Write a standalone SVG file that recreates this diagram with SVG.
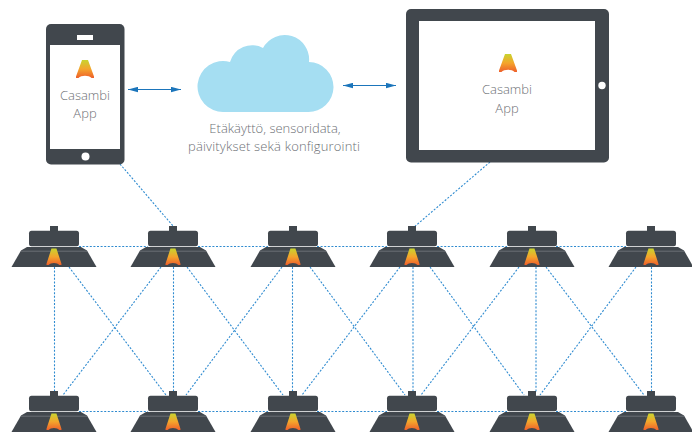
<svg xmlns="http://www.w3.org/2000/svg" width="692" height="432" viewBox="0 0 692 432">
<style>
.dk{fill:#41474d}
.t{font-family:"Open Sans","Liberation Sans",sans-serif;font-weight:300;font-size:13px;fill:#6d7075;text-anchor:middle}
.c{fill:none;stroke:#2f8bd0;stroke-width:1.1;stroke-dasharray:2 1.6}
.a{stroke:#1b75bb;stroke-width:1;fill:none;marker-start:url(#h);marker-end:url(#h)}
</style>
<defs>
<linearGradient id="g" x1="0" y1="0" x2="0" y2="1"><stop offset="0" stop-color="#c8d42e"/><stop offset=".5" stop-color="#f4a52c"/><stop offset="1" stop-color="#ee5f2b"/></linearGradient>
<marker id="h" markerWidth="10" markerHeight="6" refX="10" refY="3" orient="auto-start-reverse" markerUnits="userSpaceOnUse"><path d="M0 .3L10 3L0 5.700Z" fill="#1b75bb"/></marker>
<path id="logo" d="M6 0H12L18 16.500V18H15.500C13 15 5 15 2.500 18H0V16.500Z" fill="url(#g)"/>
<g id="lamp">
<rect class="dk" x="-4" y="0" width="8" height="6"/>
<rect class="dk" x="-25" y="4.700" width="50" height="15.500" rx="2.500"/>
<path class="dk" d="M-27 21L-33 24.500L-42.500 41H42.500L33 24.500L27 21Z"/>
<path d="M-33 25.200H33" stroke="#6a6f74" stroke-width="1"/>
<use href="#logo" transform="translate(-7.500 22.500) scale(.83 .92)"/>
</g>
</defs>
<g id="connectors">
<path class="c" d="M79 246.500H148M198 246.500H268M317 246.500H387M437 246.500H507M556 246.500H626"/>
<path class="c" d="M79 411.500H148M198 411.500H268M317 411.500H387M437 411.500H507M556 411.500H626"/>
<path class="c" d="M54.500 267V391M173.500 267V391M292.500 267V391M413 267V391M536 267V392M651.500 267V391"/>
<path class="c" d="M69 267L166 395M161 267L63 395M187 267L283 395M282 267L186 395M310 267L405 395M400 267L302 395M430 267L524 395M519 267L421 395M546 267L644 395M636 267L540 395"/>
<path class="c" d="M120 164L173 226M490 162L413 228"/>
<path class="a" d="M128 89.500H181"/>
<path class="a" d="M343 85.500H396"/>
</g>
<g id="phone">
<rect class="dk" x="46" y="24" width="78.500" height="140.500" rx="5"/>
<rect x="50" y="45" width="70" height="104" fill="#fff"/>
<rect x="77" y="35" width="16" height="5" fill="#fff"/>
<circle cx="85.500" cy="156.500" r="4" fill="#fff"/>
<use href="#logo" transform="translate(76 60)"/>
<text class="t" x="85" y="100">Casambi</text>
<text class="t" x="85" y="118">App</text>
</g>
<g id="cloud">
<path d="M224 112A25.500 25.500 0 1 1 230 62A23 23 0 0 1 263 48A24.500 24.500 0 0 1 309 62A25 25 0 0 1 308 112Z" fill="#a5def2"/>
<text class="t" x="275" y="133">Etäkäyttö, sensoridata,</text>
<text class="t" x="274" y="151" textLength="172">päivitykset sekä konfigurointi</text>
</g>
<g id="tablet">
<rect class="dk" x="406" y="9" width="203" height="153.500" rx="5"/>
<rect x="419" y="21" width="176" height="129" fill="#fff"/>
<circle cx="602" cy="85.500" r="3.700" fill="#fff"/>
<use href="#logo" transform="translate(499 54)"/>
<text class="t" x="507" y="94">Casambi</text>
<text class="t" x="507" y="113">App</text>
</g>
<g id="lamp-a1"><use href="#lamp" x="54" y="226"/></g>
<g id="lamp-a2"><use href="#lamp" x="173" y="226"/></g>
<g id="lamp-a3"><use href="#lamp" x="293" y="226"/></g>
<g id="lamp-a4"><use href="#lamp" x="412" y="226"/></g>
<g id="lamp-a5"><use href="#lamp" x="532" y="226"/></g>
<g id="lamp-a6"><use href="#lamp" x="651" y="226"/></g>
<g id="lamp-b1"><use href="#lamp" x="54" y="391"/></g>
<g id="lamp-b2"><use href="#lamp" x="173" y="391"/></g>
<g id="lamp-b3"><use href="#lamp" x="293" y="391"/></g>
<g id="lamp-b4"><use href="#lamp" x="412" y="391"/></g>
<g id="lamp-b5"><use href="#lamp" x="532" y="391"/></g>
<g id="lamp-b6"><use href="#lamp" x="651" y="391"/></g>
</svg>
